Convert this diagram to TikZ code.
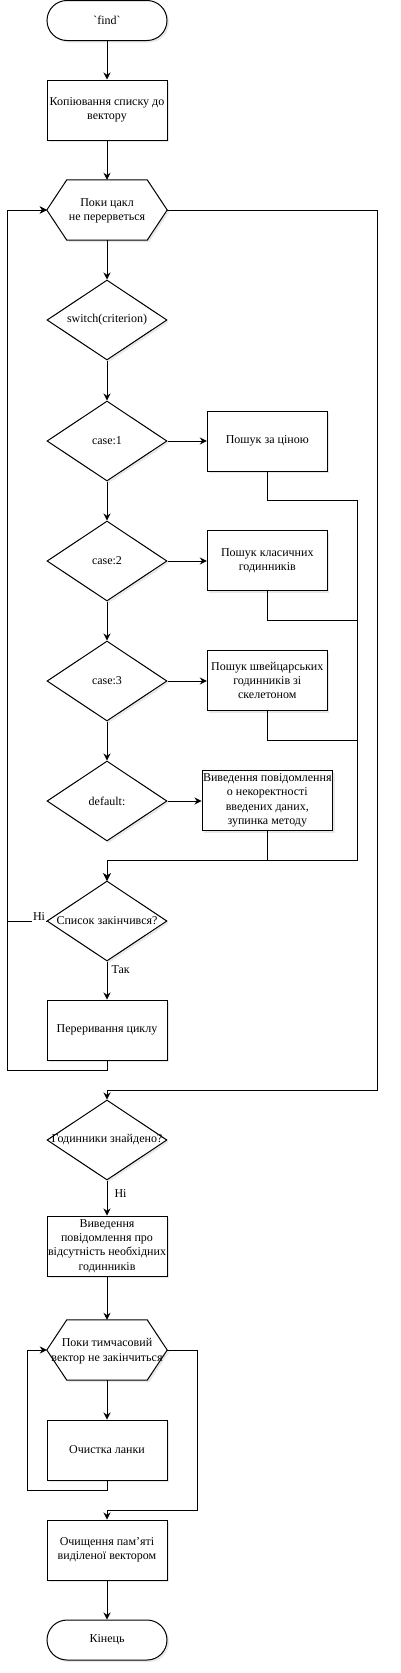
\documentclass[tikz,border=0pt]{standalone}
\usepackage{fontspec}
\setmainfont{Liberation Serif}
\newfontfamily\rawfont{Liberation Serif}[Ligatures=TeXOff]
\usetikzlibrary{shapes.geometric,arrows.meta,shadows}
\begin{document}
\begin{tikzpicture}[x=1pt,y=-1pt,
  every node/.style={font=\fontsize{12}{14.4}\selectfont, text=black},
  shad/.style={drop shadow={opacity=0.18,shadow xshift=2pt,shadow yshift=-2pt}},
  proc/.style={draw, line width=1pt, fill=white, shad, minimum width=120pt, minimum height=60pt, inner sep=1pt, align=center},
  term/.style={draw, line width=1pt, fill=white, shad, rounded corners=20pt, minimum width=120pt, minimum height=40pt, align=center},
  dia/.style={diamond, draw, line width=1pt, fill=white, shad, minimum width=120pt, minimum height=80pt, inner sep=0pt},
  hexspace/.style={minimum width=120pt, minimum height=60pt, inner sep=0pt},
  hexshape/.style={draw, line width=1pt, fill=white, shad, line join=miter},
  txt/.style={align=center, inner sep=0pt},
  arr/.style={draw, line width=1pt, -{Stealth[length=7pt,width=7pt]}},
  lbl/.style={fill=white, inner sep=1pt}]
\useasboundingbox (0,0) rectangle (401,1673);
\newcommand\myhex[1]{\draw[hexshape] (#1.west) -- ([xshift=20pt]#1.north west) -- ([xshift=-20pt]#1.north east) -- (#1.east) -- ([xshift=-20pt]#1.south east) -- ([xshift=20pt]#1.south west) -- cycle;}

% main column
\node[term] (t1) at (107,20.5) {{\rawfont `find`}};
\node[proc] (b1) at (107,110) {Копіювання списку до\\вектору};
\node[hexspace] (h1) at (107,210) {};
\myhex{h1}
\node[txt] (h1t) at (107,211) {Поки цакл\\не перерветься};
\node[dia] (d1) at (107,320) {};
\node[txt] (d1t) at (d1) {switch(criterion)};
\node[dia] (c1) at (107,441) {};
\node[txt] (c1t) at (c1) {case:1};
\node[dia] (c2) at (107,561) {};
\node[txt] (c2t) at (c2) {case:2};
\node[dia] (c3) at (107,681) {};
\node[txt] (c3t) at (c3) {case:3};
\node[dia] (c4) at (107,801) {};
\node[txt] (c4t) at (c4) {default:};
\node[proc] (p1) at (267.3,441) {Пошук за ціною};
\node[proc] (p2) at (267.3,560.5) {Пошук класичних\\годинників};
\node[proc] (p3) at (267.3,680.5) {Пошук швейцарських\\годинників зі\\скелетоном};
\node[proc] (p4) at (267.3,800.5) {Виведення повідомлення\\о некоректності\\введених даних,\\зупинка методу};
\node[dia] (d5) at (107,921) {};
\node[txt] (d5t) at (d5) {Список закінчився?};
\node[proc] (b5) at (107,1030) {Переривання циклу};
\node[dia] (d6) at (107,1140) {};
\node[txt] (d6t) at (d6) {Годинники знайдено?};
\node[proc] (b7) at (107,1246) {Виведення\\повідомлення про\\відсутність необхідних\\годинників};
\node[hexspace] (h2) at (107,1350) {};
\myhex{h2}
\node[txt] (h2t) at (107,1351) {Поки тимчасовий\\вектор не закінчиться};
\node[proc] (b8) at (107,1450) {Очистка ланки};
\node[proc] (b9) at (107,1550) {Очищення пам'яті\\виділеної вектором};
\node[term] (t2) at (107,1640) {Кінець};

% helper coordinates
\coordinate (rt1) at (357.3,500);
\coordinate (rt2) at (357.3,620);
\coordinate (rt3) at (357.3,740);
\coordinate (rbot) at (357.3,860);
\coordinate (mj) at (107,860);
\coordinate (l1) at (7.3,210);
\coordinate (l1m) at (7.3,921);
\coordinate (b5lb) at (107,1070);
\coordinate (o1) at (377.7,210);
\coordinate (o2) at (377.7,1090);
\coordinate (fj) at (107,1090);
\coordinate (l2) at (27.3,1350);
\coordinate (b8lb) at (107,1490);
\coordinate (o3) at (197.3,1350);
\coordinate (o4) at (197.3,1510);
\coordinate (fj2) at (107,1510);

% connectors
\draw[arr] (t1) -- (b1);
\draw[arr] (b1) -- (h1);
\draw[arr] (h1) -- (d1);
\draw[arr] (d1) -- (c1);
\draw[arr] (c1) -- (c2);
\draw[arr] (c2) -- (c3);
\draw[arr] (c3) -- (c4);
\draw[arr] (c1) -- (p1);
\draw[arr] (c2.east) -- (c2.east -| p2.west);
\draw[arr] (c3.east) -- (c3.east -| p3.west);
\draw[arr] (c4.east) -- (c4.east -| p4.west);
\draw[arr] (p1.south) |- (rt1) -- (rbot) -- (mj) -- (d5.north);
\draw[arr] (p2.south) |- (rt2) -- (rbot) -- (mj) -- (d5.north);
\draw[arr] (p3.south) |- (rt3) -- (rbot) -- (mj) -- (d5.north);
\draw[arr] (p4.south) |- (mj) -- (d5.north);
\draw[arr] (d5.west) -- node[lbl, pos=0, anchor=south east, yshift=-1pt]{Ні} (l1m) -- (l1) -- (h1.west);
\draw[arr] (d5.south) -- node[lbl, pos=0.22, anchor=west, xshift=3pt]{Так} (b5.north);
\draw[arr] (b5.south) -- (b5lb) -| (l1) -- (h1.west);
\draw[arr] (h1.east) -- (o1) -- (o2) -- (fj) -- (d6.north);
\draw[arr] (d6.south) -- node[lbl, pos=0.36, anchor=west, xshift=6pt]{Ні} (b7.north);
\draw[arr] (b7) -- (h2);
\draw[arr] (h2) -- (b8);
\draw[arr] (b8.south) -- (b8lb) -| (l2) -- (h2.west);
\draw[arr] (h2.east) -- (o3) -- (o4) -- (fj2) -- (b9.north);
\draw[arr] (b9) -- (t2);
\end{tikzpicture}
\end{document}
